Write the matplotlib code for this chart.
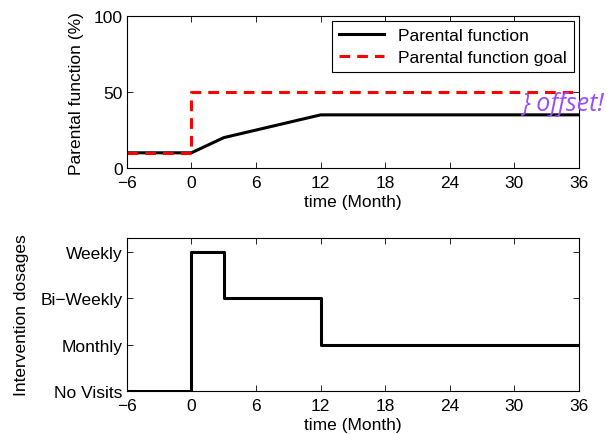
import numpy as np
import matplotlib.pyplot as plt

plt.rcParams['font.family'] = ['Liberation Sans', 'DejaVu Sans']
plt.rcParams['font.size'] = 12.5

# parental function data
pf_t = [-6, 0, 3, 12, 36]
pf_val = [10, 10, 20, 35, 35]
goal_t = [-6, 0, 0, 36]
goal_val = [10, 10, 50, 50]

# intervention dosage steps
dose_t = [-6, 0, 0, 3, 3, 12, 12, 36]
dose_val = [0, 0, 3, 3, 2, 2, 1, 1]
dose_labels = ['No Visits', 'Monthly', 'Bi\u2212Weekly', 'Weekly']

xticks = [-6, 0, 6, 12, 18, 24, 30, 36]
xtick_labels = ['\u22126', '0', '6', '12', '18', '24', '30', '36']

fig = plt.figure(figsize=(6.07, 4.35), dpi=100)
ax1 = fig.add_axes([0.209, 0.6115, 0.745, 0.349])
ax2 = fig.add_axes([0.209, 0.0989, 0.745, 0.352])

ax1.plot(pf_t, pf_val, 'k-', lw=2.2, label='Parental function')
ax1.plot(goal_t, goal_val, 'r--', lw=2.2, dashes=(3.5, 2.3), label='Parental function goal')
ax1.set_xlim(-6, 36)
ax1.set_ylim(0, 100)
ax1.set_yticks([0, 50, 100])
ax1.set_xticks(xticks)
ax1.set_xticklabels(xtick_labels)
ax1.set_xlabel('time (Month)', labelpad=3)
ax1.set_ylabel('Parental function (%)', labelpad=7)
leg = ax1.legend(loc='upper right', fancybox=False, edgecolor='black',
                 handlelength=2.6, borderaxespad=0.3, framealpha=1,
                 borderpad=0.4, labelspacing=0.35)
leg.get_frame().set_linewidth(0.8)
ax1.text(30.7, 42.5, '} offset!', color='#9a4dff', fontsize=18, style='italic',
         family='Open Sans', va='center', ha='left', clip_on=False)

ax2.plot(dose_t, dose_val, 'k-', lw=2.2)
ax2.set_xlim(-6, 36)
ax2.set_ylim(0, 3.3)
ax2.set_yticks([0, 1, 2, 3])
ax2.set_yticklabels(dose_labels)
ax2.set_xticks(xticks)
ax2.set_xticklabels(xtick_labels)
ax2.set_xlabel('time (Month)', labelpad=3)
ax2.set_ylabel('Intervention dosages', labelpad=8)

for ax in (ax1, ax2):
    ax.tick_params(direction='in', top=True, right=True, length=4, width=0.6)
    ax.tick_params(axis='x', pad=5)
    ax.tick_params(axis='y', pad=3)
    for s in ax.spines.values():
        s.set_linewidth(0.8)

fig.savefig('out.png', dpi=100)
